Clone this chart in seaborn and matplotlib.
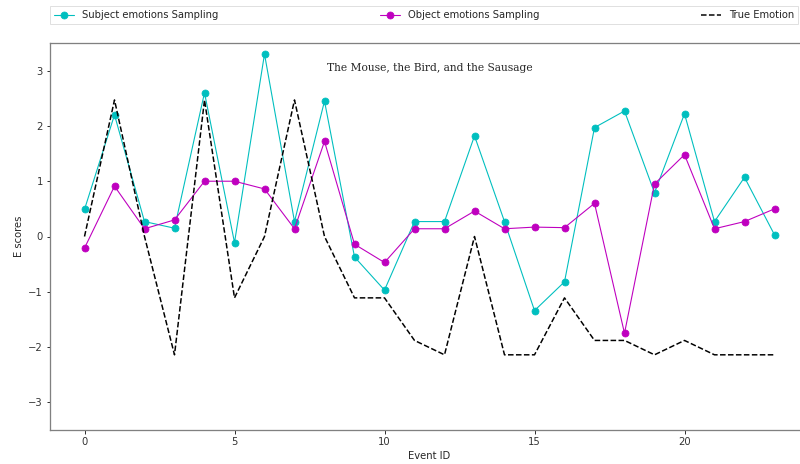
import numpy as np
import pandas as pd
import matplotlib
matplotlib.use('Agg')
import matplotlib.pyplot as plt
import seaborn as sns

# values
event_id = list(range(24))
subject_scores = [0.49, 2.2, 0.27, 0.15, 2.6, -0.11, 3.3, 0.27, 2.45, -0.37, -0.97, 0.27,
                  0.27, 1.82, 0.27, -1.34, -0.82, 1.97, 2.27, 0.79, 2.22, 0.27, 1.07, 0.03]
object_scores = [-0.21, 0.91, 0.14, 0.30, 1.0, 1.0, 0.86, 0.14, 1.72, -0.14, -0.47, 0.14,
                 0.14, 0.46, 0.14, 0.17, 0.16, 0.60, -1.75, 0.95, 1.48, 0.14, 0.27, 0.50]
true_scores = [0.0, 2.47, 0.0, -2.14, 2.47, -1.11, 0.0, 2.47, 0.0, -1.11, -1.11, -1.88,
               -2.14, 0.0, -2.14, -2.14, -1.11, -1.88, -1.88, -2.14, -1.88, -2.14, -2.14, -2.14]
title = 'The Mouse, the Bird, and the Sausage'

df = pd.DataFrame({'Event ID': event_id, 'subject': subject_scores,
                   'object': object_scores, 'true': true_scores})

sns.set_style('ticks', {'axes.edgecolor': '0.5', 'xtick.color': 'k', 'ytick.color': 'k',
                        'text.color': '0.15', 'axes.labelcolor': '0.15'})
plt.rcParams['font.family'] = ['DejaVu Sans']
plt.rcParams['font.size'] = 10
plt.rcParams['xtick.labelcolor'] = '0.2'
plt.rcParams['ytick.labelcolor'] = '0.2'

fig = plt.figure(figsize=(800 / 72, 464 / 72), dpi=72)
# axes run a little past the right edge, as in the original
ax = fig.add_axes([50 / 800, 34 / 464, 759 / 800, 387 / 464])

sns.lineplot(x='Event ID', y='subject', data=df, ax=ax, color='c', marker='o',
             markersize=7, markeredgecolor='c', linewidth=1.1, label='Subject emotions Sampling')
sns.lineplot(x='Event ID', y='object', data=df, ax=ax, color='m', marker='o',
             markersize=7, markeredgecolor='m', linewidth=1.1, label='Object emotions Sampling')
sns.lineplot(x='Event ID', y='true', data=df, ax=ax, color='k', linestyle='--',
             linewidth=1.5, label='True Emotion')

ax.set_xlim(-1.15, 24.15)
ax.set_ylim(-3.5, 3.5)
ax.set_xticks([0, 5, 10, 15, 20])
ax.set_yticks([-3, -2, -1, 0, 1, 2, 3])
ax.set_xlabel('Event ID')
ax.set_ylabel('E scores')
for s in ax.spines.values():
    s.set_linewidth(1.3)
ax.spines['right'].set_visible(False)

ax.text(11.5, 3.05, title, ha='center', va='center', family='DejaVu Serif', fontsize=10.6)

ax.legend(bbox_to_anchor=(0, 1.049, 0.986, 0.05), loc='lower left', ncol=3, mode='expand',
          borderaxespad=0, fancybox=False, edgecolor='0.85', fontsize=10)

fig.savefig('out.png', dpi=72)
